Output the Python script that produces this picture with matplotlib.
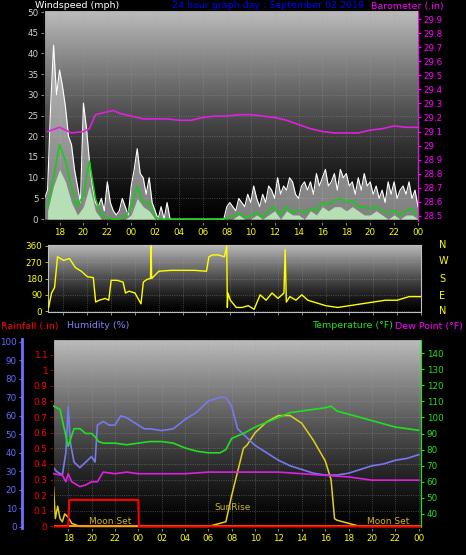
import numpy as np
import matplotlib
matplotlib.use("Agg")
import matplotlib.pyplot as plt

W, H = 466, 555

# ---- wind (mph), 15-min gusts from 16.75 h to 48 h
gust_t = 16.75 + 0.25 * np.arange(126)
gust = [5,
        7, 27, 42, 30, 36, 32, 27, 20, 18, 12, 8, 4, 28, 22, 14, 8,
        4, 3, 5, 2, 9, 4, 2, 1, 2, 5, 3, 1, 8, 12, 17, 11,
        10, 6, 10, 4, 2, 0, 3, 0, 4, 0, 0, 0,
        0, 0, 0, 0, 0, 0, 0, 0, 0, 0, 0, 0, 0, 0, 0, 0,
        3, 4, 3, 2, 5, 4, 3, 6, 4, 8, 5, 3, 6, 4, 8, 7,
        5, 10, 6, 8, 7, 10, 9, 6, 5, 8, 9, 7, 9, 6, 11, 8,
        10, 12, 8, 9, 11, 7, 12, 10, 11, 8, 9, 6, 10, 7, 11, 8,
        9, 6, 8, 5, 7, 4, 9, 6, 9, 5, 7, 8, 6, 9, 5, 7,
        3]
avg_t = 17 + 0.5 * np.arange(63)
avg = [3, 10, 18, 14, 8, 3, 6, 14, 5, 1, 0.5, 0, 0, 0.5, 3, 8, 4, 4, 0.5,
       0, 0, 0, 0, 0, 0, 0, 0, 0, 0, 0,
       0.2, 0.5, 1.5, 0.5, 0.8, 1.5, 0.5, 2, 3, 1, 3, 1.5, 2, 1.5, 2.5, 2, 4,
       3.5, 4.5, 5, 4, 4.5, 3, 3, 2.5, 3, 2, 1.5, 2, 1, 2, 2.5, 0.5]
low = [2, 8, 12, 9, 4, 1, 3, 8, 2, 0, 0, 0, 0, 0, 1, 5, 3, 2, 0,
       0, 0, 0, 0, 0, 0, 0, 0, 0, 0, 0,
       0, 0, 1, 0, 0, 1, 0, 1, 2, 0, 2, 1, 1, 0, 2, 1, 3,
       2, 3, 3, 2, 3, 2, 1, 1, 2, 1, 0, 1, 0, 1, 1, 0]

baro_t = [17, 18, 19, 20, 20.5, 21, 22, 22.5, 23, 24, 25, 26, 27, 28, 29, 30, 31,
          32, 33, 34, 35, 36, 37, 38, 39, 40, 41, 42, 43, 44, 45, 46, 47, 48]
baro = [29.10, 29.13, 29.09, 29.10, 29.12, 29.22, 29.24, 29.25, 29.23, 29.21, 29.19,
        29.19, 29.19, 29.18, 29.18, 29.20, 29.21, 29.21, 29.22, 29.22, 29.21, 29.20,
        29.18, 29.15, 29.12, 29.10, 29.09, 29.09, 29.09, 29.11, 29.12, 29.14, 29.13, 29.13]

# ---- wind direction (deg)
dir_t = [16.75, 17, 17.25, 17.5, 18, 18.5, 19, 19.5, 20, 20.5, 20.7, 21, 21.5, 21.8, 22,
         22.5, 23, 23.2, 23.5, 24, 24.5, 24.7, 25, 25.3, 25.35, 25.4, 25.7, 26, 27, 28,
         29, 30, 30.2, 30.5, 31, 31.5, 31.7, 31.75, 31.8, 32, 32.5, 33, 33.5, 34, 34.5,
         35, 35.5, 36, 36.5, 36.6, 36.7, 37, 37.5, 38, 38.5, 39, 40, 41, 42, 43, 44, 45,
         46, 47, 48]
wdir = [20, 100, 130, 300, 280, 290, 240, 220, 190, 185, 50, 60, 70, 60, 170,
        170, 160, 100, 110, 100, 40, 160, 175, 180, 360, 180, 200, 220, 225, 225,
        225, 220, 300, 310, 310, 300, 360, 20, 100, 60, 20, 20, 30, 10, 90,
        60, 100, 70, 100, 340, 50, 80, 60, 90, 60, 50, 30, 20, 30, 40, 50, 60,
        60, 80, 80]

# ---- bottom panel
hum_t = [16.75, 17, 17.5, 17.8, 18, 18.2, 18.5, 19, 19.5, 20, 20.3, 20.5, 21, 21.5, 22,
         22.5, 23, 24, 24.5, 25, 26, 27, 28, 29, 30, 31, 31.5, 32, 32.5, 33, 34, 35,
         36, 37, 38, 39, 40, 41, 42, 43, 44, 45, 46, 47, 48]
hum = [32, 30, 28, 40, 65, 45, 35, 32, 35, 38, 35, 55, 57, 55, 55,
       60, 59, 55, 53, 53, 52, 53, 58, 62, 68, 70, 70, 65, 53, 50, 44, 40,
       36, 33, 31, 29, 28, 28, 29, 31, 33, 34, 36, 37, 39]
temp_t = [16.75, 17.3, 17.6, 18, 18.5, 19, 19.5, 20, 20.3, 20.6, 21, 22, 23, 24, 25,
          26, 27, 28, 29, 30, 31, 31.5, 32, 33, 34, 35, 36, 37, 38, 39, 40, 40.5, 41,
          42, 43, 44, 45, 46, 47, 48]
temp = [107, 105, 95, 82, 93, 93, 90, 90, 88, 85, 84, 84, 83, 84, 85,
        85, 84, 81, 79, 78, 78, 80, 87, 90, 94, 97, 100, 103, 104, 105, 106, 107, 104,
        102, 100, 98, 96, 94, 93, 92]
dew_t = [16.75, 17.5, 17.8, 18, 18.3, 19, 19.5, 20, 20.5, 21, 22, 23, 24, 26, 28, 30,
         32, 34, 36, 38, 40, 42, 44, 46, 48]
dew = [65, 64, 60, 65, 60, 57, 58, 60, 60, 66, 65, 66, 65, 65, 65, 66,
       66, 66, 66, 65, 64, 63, 61, 61, 61]
rain_t = [16.7, 18.0, 18.1, 24.0, 24.05, 48.2]
rain = [0, 0, 0.17, 0.17, 0, 0]
sol_t = [16.75, 16.9, 17.1, 17.3, 17.5, 17.7, 18, 18.3, 19, 30, 31, 31.5, 32, 32.5, 33,
         33.3, 34, 35, 36, 37, 38, 39, 40, 40.5, 40.8, 41, 41.5, 42, 43, 48]
sol = [0.25, 0.05, 0.13, 0.05, 0.03, 0.08, 0.06, 0.02, 0.0, 0, 0.02, 0.03, 0.2, 0.35, 0.5,
       0.52, 0.6, 0.67, 0.71, 0.71, 0.66, 0.55, 0.42, 0.3, 0.05, 0.04, 0.03, 0.02, 0, 0]

hours = np.arange(18, 49, 2)
hour_labels = ["%02d" % (h % 24) for h in hours]

fig = plt.figure(figsize=(W / 100, H / 100), dpi=100, facecolor="black")
FS = 6.3


def px_axes(x0, y0, x1, y1):
    return fig.add_axes([x0 / W, 1 - y1 / H, (x1 - x0) / W, (y1 - y0) / H])


grad = np.linspace(0, 1, 256).reshape(-1, 1)


def style(ax, xlim, ylim):
    ax.set_facecolor("black")
    ax.imshow(grad ** 1.3, cmap="gray", extent=[xlim[0], xlim[1], ylim[0], ylim[1]],
              aspect="auto", origin="lower", vmin=0.0, vmax=1.35, zorder=0)
    ax.set_xlim(xlim)
    ax.set_ylim(ylim)
    ax.grid(True, color="#a0a0a0", ls=":", lw=0.6, alpha=0.5)
    ax.set_xticks(hours)
    for s in ax.spines.values():
        s.set_color("#c0c0c0")
    ax.tick_params(colors="#c0c0c0", labelsize=FS, length=2, width=0.5, pad=2)


# top: wind + barometer
ax1 = px_axes(44, 10, 418, 222)
style(ax1, (16.7, 48), (-0.7, 50.5))
ax1.fill_between(gust_t, gust, color="#d8d8d8", alpha=0.6, lw=0, zorder=2)
ax1.plot(gust_t, gust, color="white", lw=0.8, zorder=3)
ax1.fill_between(avg_t, low, color="#c0f0c0", alpha=0.85, lw=0, zorder=4)
ax1.plot(avg_t, avg, color="#10d010", lw=1.1, zorder=5)
ax1.set_yticks(range(0, 51, 5))
ax1.set_xticklabels(hour_labels, color="yellow")
ax1.tick_params(axis="y", colors="#d0d0d0")
ax1b = ax1.twinx()
ax1b.set_ylim(28.457, 29.964)
ax1b.plot(baro_t, baro, color="#e020e0", lw=1.2, zorder=6)
bt = np.round(np.arange(28.5, 29.95, 0.1), 1)
ax1b.set_yticks(bt)
ax1b.set_yticklabels(["%g" % v for v in bt])
ax1b.tick_params(colors="#ff00ff", labelsize=FS, length=2, pad=2)
ax1b.spines["right"].set_color("#ff00ff")

fig.text(35 / W, 1 - 6 / H, "Windspeed (mph)", color="white", fontsize=6.8, va="center")
fig.text(172 / W, 1 - 6 / H, "24 hour graph day : September 02 2019", color="#0000ff",
         fontsize=6.8, va="center")
fig.text(371 / W, 1 - 6 / H, "Barometer (.in)", color="#ff00ff", fontsize=6.8, va="center")

# middle: wind direction
ax2 = px_axes(48, 245, 421, 312)
style(ax2, (16.7, 48), (-5, 365))
ax2.plot(dir_t, wdir, color="yellow", lw=1.0, zorder=3)
ax2.set_yticks([0, 90, 180, 270, 360])
ax2.set_xticklabels([])
ax2.tick_params(axis="y", colors="yellow")
for yy, lab in zip([245, 261, 279, 296, 311], "NWSEN"):
    fig.text(439 / W, 1 - yy / H, lab, color="yellow", fontsize=7, va="center")

# bottom: rain, humidity, temperature, dew point, solar
ax3 = px_axes(53, 339, 421, 528)
style(ax3, (16.7, 48.2), (-0.01, 1.2))
ax3.plot(sol_t, sol, color="#e0d020", lw=1.1, zorder=3)
ax3.axhline(0, color="#ff9900", lw=1.5, zorder=3)
ax3.plot(rain_t, rain, color="red", lw=1.5, zorder=6)
rt = np.round(np.arange(0, 1.15, 0.1), 1)
ax3.set_yticks(rt)
ax3.set_yticklabels(["%g" % v for v in rt])
ax3.set_xticklabels(hour_labels, color="yellow")
ax3.tick_params(axis="y", colors="red")
ax3.spines["left"].set_color("red")
ax3.spines["left"].set_linestyle("--")

axh = ax3.twinx()
axh.set_ylim(-0.6, 101.5)
axh.plot(hum_t, hum, color="#7878f0", lw=1.2, zorder=5)
axh.yaxis.set_ticks_position("left")
axh.spines["left"].set_position(("outward", 22))
axh.spines["left"].set_visible(True)
axh.spines["left"].set_color("#7070ff")
axh.spines["left"].set_linewidth(2)
axh.spines["right"].set_visible(False)
axh.set_yticks(range(0, 101, 10))
axh.tick_params(colors="#6a6aff", labelsize=FS, length=2, pad=2)

axt = ax3.twinx()
axt.set_ylim(31.25, 148.75)
axt.plot(temp_t, temp, color="#20e020", lw=1.2, zorder=5)
axt.plot(dew_t, dew, color="#e020e0", lw=1.2, zorder=5)
axt.set_yticks(range(40, 141, 10))
axt.tick_params(colors="#20e020", labelsize=FS, length=2, pad=2)
axt.spines["right"].set_color("#20e020")

for ax_ in (axh, axt, ax1b):
    ax_.patch.set_visible(False)

ax3.text(21.6, 0.005, "Moon Set", color="#c8b820", fontsize=6.5, ha="center", va="bottom", zorder=7)
ax3.text(32.1, 0.12, "SunRise", color="#c8b820", fontsize=6.5, ha="center", va="center", zorder=7)
ax3.text(45.4, 0.005, "Moon Set", color="#c8b820", fontsize=6.5, ha="center", va="bottom", zorder=7)

fig.text(1 / W, 1 - 326 / H, "Rainfall (.in)", color="red", fontsize=6.8, va="center")
fig.text(67 / W, 1 - 326 / H, "Humidity (%)", color="#8080ff", fontsize=6.8, va="center")
fig.text(312 / W, 1 - 326 / H, "Temperature (°F)", color="#20e020", fontsize=6.8, va="center")
fig.text(463 / W, 1 - 326 / H, "Dew Point (°F)", color="#ff00ff", fontsize=6.8, va="center", ha="right")

fig.savefig("out.png", dpi=100, facecolor="black")
